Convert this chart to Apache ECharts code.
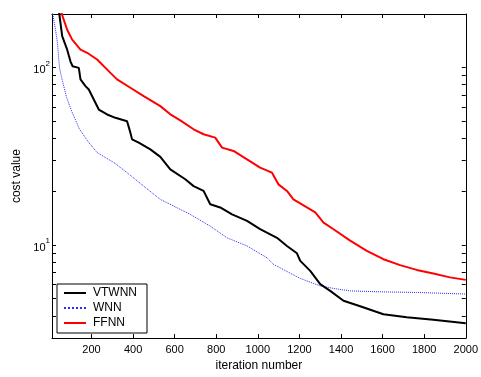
<!DOCTYPE html>
<html><head><meta charset="utf-8">
<script src="https://cdn.jsdelivr.net/npm/echarts@6/dist/echarts.min.js"></script>
<style>html,body{margin:0;padding:0;background:#fff}#c{width:481px;height:377px}</style>
</head><body><div id="c"></div>
<script>
const xTickValues = [200,400,600,800,1000,1200,1400,1600,1800,2000];
const yLabelValues = [10,100];
const yTickValues = [3,4,5,6,7,8,9,10,20,30,40,50,60,70,80,90,100,200];
const seriesNames = ['VTWNN','WNN','FFNN'];

const vtwnnIter = [44,59,83,99,109,139,147,171,187,211,235,275,315,371,387,395,427,483,531,579,651,691,739,771,819,876,948,1011,1092,1140,1188,1204,1252,1300,1348,1412,1492,1604,1716,1844,2000];
const vtwnnCost = [205,150,126,108,101.6,99.5,85.7,78.6,75.2,66.1,58.0,54.4,52.1,49.8,43.0,39.4,37.8,34.6,31.4,26.7,23.5,21.5,20.2,17.0,16.3,14.9,13.7,12.3,11.0,9.9,9.0,8.16,7.17,6.04,5.53,4.87,4.53,4.09,3.93,3.80,3.64];

const wnnIter = [12,27,36,46,56,80,104,142,187,227,307,371,451,531,675,771,852,948,1044,1075,1204,1300,1364,1444,1604,1764,2000];
const wnnCost = [205,163,138,100,88,68,57,45,37.8,33.2,29.2,25.6,21.5,18.1,14.9,12.8,11.0,9.9,8.5,7.8,6.5,5.9,5.71,5.53,5.46,5.42,5.31];

const ffnnIter = [54,83,107,147,179,227,291,323,387,451,531,579,627,691,739,795,828,883,948,1011,1068,1099,1140,1171,1236,1276,1316,1364,1444,1524,1604,1684,1764,1844,1924,2000];
const ffnnCost = [205,163,143.5,126,121,110.9,93.3,85.7,76.9,69.0,60.6,54.5,50.4,44.9,42.1,40.3,35.4,33.9,30.4,27.3,25.6,22.0,20.2,18.1,16.3,15.3,13.4,12.3,10.6,9.3,8.34,7.72,7.26,6.93,6.59,6.38];

const pairs = (xs, ys) => xs.map((x, i) => [x, ys[i]]);
const FONT = '"Liberation Sans", Arial, sans-serif';

const chart = echarts.init(document.getElementById('c'), null, {renderer: 'canvas'});
const xBase = {
  type: 'value', min: 10, max: 2000,
  axisLine: {show: true, lineStyle: {color: '#000', width: 1}},
  splitLine: {show: false},
  axisTick: {show: true, inside: true, length: 4, customValues: xTickValues, lineStyle: {color: '#000'}}
};
const yBase = {
  type: 'log', logBase: 10, min: 3, max: 200,
  axisLine: {show: true, lineStyle: {color: '#000', width: 1}},
  splitLine: {show: false},
  minorTick: {show: false},
  axisTick: {show: true, inside: true, length: 4, customValues: yTickValues, lineStyle: {color: '#000'}}
};
chart.setOption({
  animation: false,
  grid: {left: 52, top: 14, right: 15, bottom: 38},
  legend: {
    orient: 'vertical', left: 57, top: 284,
    data: seriesNames,
    itemWidth: 22, itemHeight: 12, itemGap: 3,
    padding: [3, 10, 4, 6],
    borderColor: '#000', borderWidth: 1, backgroundColor: '#fff',
    itemStyle: {opacity: 0},
    textStyle: {fontFamily: FONT, fontSize: 12, color: '#000', padding: [0, 0, 0, 2]}
  },
  xAxis: [
    Object.assign({}, xBase, {
      position: 'bottom',
      name: 'iteration number', nameLocation: 'middle', nameGap: 17,
      nameTextStyle: {fontFamily: FONT, fontSize: 12, color: '#000'},
      axisLabel: {show: true, customValues: xTickValues, margin: 6, formatter: v => String(v),
        fontFamily: FONT, fontSize: 11, color: '#000'}
    }),
    Object.assign({}, xBase, {position: 'top', axisLabel: {show: false}})
  ],
  yAxis: [
    Object.assign({}, yBase, {
      position: 'left',
      name: 'cost value', nameLocation: 'middle', nameGap: 29,
      nameTextStyle: {fontFamily: FONT, fontSize: 12, color: '#000'},
      axisLabel: {
        show: true, customValues: yLabelValues, margin: 2,
        formatter: v => '{b|10}{e|' + Math.round(Math.log10(v)) + '}',
        rich: {
          b: {fontFamily: FONT, fontSize: 11, color: '#000', lineHeight: 16, verticalAlign: 'bottom'},
          e: {fontFamily: FONT, fontSize: 8, color: '#000', lineHeight: 16, verticalAlign: 'top'}
        }
      }
    }),
    Object.assign({}, yBase, {position: 'right', axisLabel: {show: false}})
  ],
  series: [
    {name: 'VTWNN', type: 'line', data: pairs(vtwnnIter, vtwnnCost), symbol: 'none', z: 3,
     lineStyle: {color: '#000', width: 2}, itemStyle: {color: '#000'}},
    {name: 'WNN', type: 'line', data: pairs(wnnIter, wnnCost), symbol: 'none', z: 2,
     lineStyle: {color: '#2a2aff', width: 1, type: 'dotted'}, itemStyle: {color: '#2a2aff'}},
    {name: 'FFNN', type: 'line', data: pairs(ffnnIter, ffnnCost), symbol: 'none', z: 2,
     lineStyle: {color: '#ff0000', width: 2}, itemStyle: {color: '#ff0000'}}
  ]
});
</script></body></html>
